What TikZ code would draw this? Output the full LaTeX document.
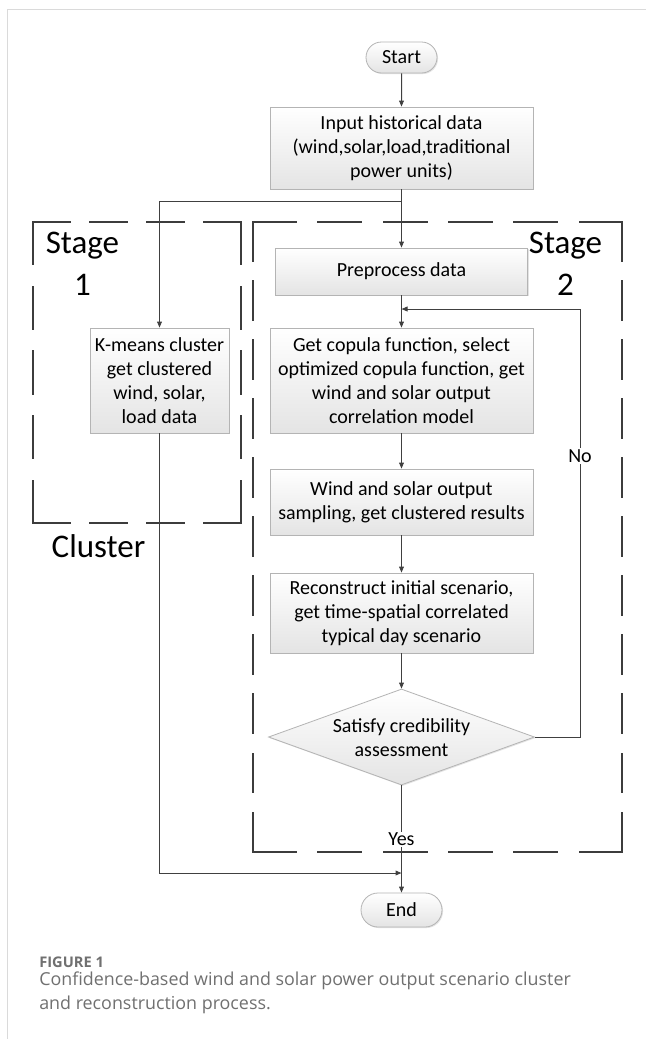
\documentclass[tikz,border=0pt]{standalone}
\usepackage{fontspec}
\setmainfont{Carlito}
\newfontfamily\capfont{Open Sans}
\usetikzlibrary{arrows.meta,shapes.geometric,shapes.misc,shadows}
\definecolor{linegray}{HTML}{404040}
\definecolor{dashgray}{HTML}{3C3C3C}
\definecolor{boxborder}{HTML}{B4B4B4}
\definecolor{boxbottom}{HTML}{E4E4E4}
\definecolor{framegray}{HTML}{DADADA}
\definecolor{capgray}{HTML}{707070}
\begin{document}
\begin{tikzpicture}[x=0.75pt,y=-0.75pt,
 box/.style={draw=boxborder, line width=0.6pt, top color=white, bottom color=boxbottom,
   align=center, inner sep=0pt, font=\fontsize{15pt}{18pt}\selectfont,
   drop shadow={shadow xshift=0.8pt, shadow yshift=-0.8pt, opacity=0.22}},
 term/.style={box, rounded rectangle},
 decision/.style={box, diamond, minimum width=199.5pt, minimum height=72pt},
 arr/.style={draw=linegray, line width=0.75pt, -{Triangle[length=4.5pt,width=3.6pt]}},
 conn/.style={draw=linegray, line width=0.75pt},
 stageline/.style={draw=dashgray, line width=1.6pt, line cap=rect},
 bigtxt/.style={font=\fontsize{24.75pt}{31.5pt}\selectfont, align=center, inner sep=0pt},
 lbl/.style={fill=white, inner sep=1pt, font=\fontsize{15pt}{18pt}\selectfont},
 captxt/.style={inner sep=0pt, text=capgray, align=left},
]
\fill[white] (0,0) rectangle (646,1039);
\useasboundingbox (0,0) rectangle (646,1039);
\draw[framegray, line width=0.75pt] (7,1039) -- (7,9) -- (646,9);

% Stage 1 dashed frame
\draw[stageline, dash pattern=on 27.98pt off 14.7pt] (33,222) -- (241,222);
\draw[stageline, dash pattern=on 27.98pt off 14.7pt] (33,523) -- (241,523);
\draw[stageline, dash pattern=on 31.8pt off 16.7pt] (33,222) -- (33,523);
\draw[stageline, dash pattern=on 31.8pt off 16.7pt] (241,222) -- (241,523);
% Stage 2 dashed frame
\draw[stageline, dash pattern=on 32.1pt off 16.9pt] (253,222) -- (622,222);
\draw[stageline, dash pattern=on 32.1pt off 16.9pt] (253,852) -- (622,852);
\draw[stageline, dash pattern=on 29.1pt off 15.2pt] (253,222) -- (253,852);
\draw[stageline, dash pattern=on 29.1pt off 15.2pt] (622,222) -- (622,852);

\node[bigtxt] (s1) at (82.5,263.5) {Stage\\1};
\node[bigtxt] (s2) at (565.5,263.5) {Stage\\2};
\node[bigtxt, anchor=base] (cl) at (98.5,557) {Cluster};

% nodes
\node[term, minimum width=53.25pt, minimum height=23.25pt] (start) at (401.5,57.5) {Start};
\node[box, minimum width=197.25pt, minimum height=61.5pt] (input) at (401.5,148)
  {Input historical data\\(wind,solar,load,traditional\\power units)};
\node[box, minimum width=189pt, minimum height=35.25pt] (pre) at (401.5,271.5) {Preprocess data};
\node[box, minimum width=197.25pt, minimum height=78.75pt] (cop) at (401.5,380.5)
  {Get copula function, select\\optimized copula function, get\\wind and solar output\\correlation model};
\node[box, minimum width=104.25pt, minimum height=78.75pt] (km) at (159.5,380.5)
  {K-means cluster\\get clustered\\wind, solar,\\load data};
\node[box, minimum width=197.25pt, minimum height=49.5pt] (ws) at (401.5,502)
  {Wind and solar output\\sampling, get clustered results};
\node[box, minimum width=197.25pt, minimum height=60pt] (rec) at (401.5,613)
  {Reconstruct initial scenario,\\get time-spatial correlated\\typical day scenario};
\node[decision] (dia) at (401.5,737) {};
\node[align=center, inner sep=0pt, font=\fontsize{15pt}{18pt}\selectfont] (diatxt) at (401.5,738)
  {Satisfy credibility\\assessment};
\node[term, minimum width=60.75pt, minimum height=25.5pt] (endn) at (401.5,910) {End};

% connectors
\coordinate (split) at (401.5,201);
\draw[arr] (start) -- (input);
\draw[conn] (input.south) -- (split);
\draw[arr] (split) -| (km.north);
\draw[arr] (split) -- (pre.north);
\draw[arr] (pre) -- (cop);
\draw[arr] (cop) -- (ws);
\draw[arr] (ws) -- (rec);
\draw[arr] (rec.south) -- (dia.north);
\coordinate (fbR) at (580,309);
\coordinate (fbJ) at (401.5,309);
\draw[arr] (dia.east) -| (fbR) -- (fbJ);
\node[lbl] (no) at (580,456) {No};
\draw[arr] (dia.south) -- (endn.north);
\node[lbl] (yes) at (401.5,839.5) {Yes};
\coordinate (kmB) at (159.5,873);
\coordinate (endJ) at (401.5,873);
\draw[arr] (km.south) -- (kmB) -- (endJ);

% caption
\node[captxt, anchor=base west, font=\capfont\bfseries\fontsize{11pt}{13pt}\selectfont] (fig) at (39,967) {FIGURE 1};
\node[captxt, anchor=north west, font=\capfont\fontsize{13.4pt}{17.6pt}\selectfont] (cap) at (39,972)
  {Confidence-based wind and solar power output scenario cluster\\and reconstruction process.};
\end{tikzpicture}
\end{document}
